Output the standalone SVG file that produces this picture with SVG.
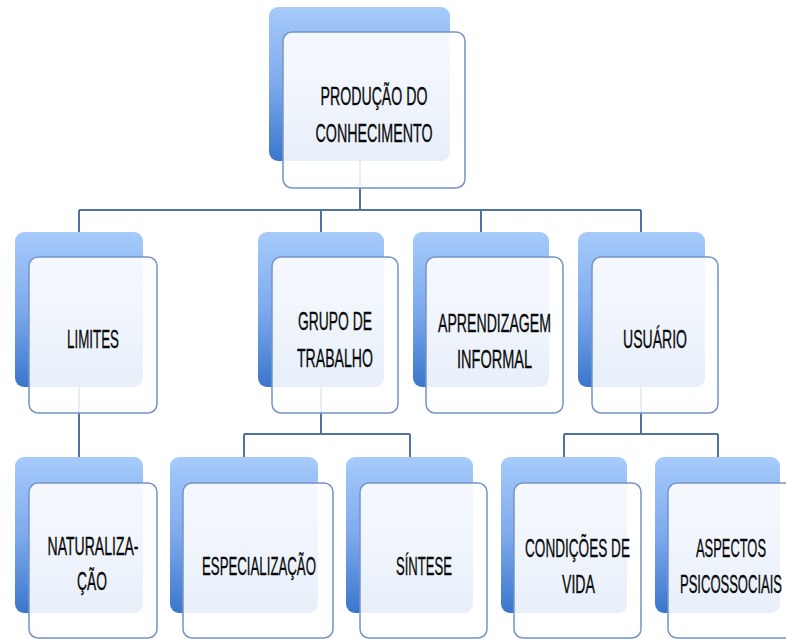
<svg xmlns="http://www.w3.org/2000/svg" width="786" height="639" viewBox="0 0 786 639">
<defs>
<linearGradient id="bg" x1="0" y1="0" x2="0" y2="1">
<stop offset="0" stop-color="#a6cbfb"/>
<stop offset="0.5" stop-color="#7eaaed"/>
<stop offset="1" stop-color="#3a76cc"/>
</linearGradient>
<linearGradient id="fg" x1="0" y1="0" x2="0" y2="1">
<stop offset="0" stop-color="#ffffff" stop-opacity="0.9"/>
<stop offset="1" stop-color="#ffffff" stop-opacity="0.88"/>
</linearGradient>
<style>
.back{fill:url(#bg);}
.front{fill:url(#fg);stroke:#7694c6;stroke-width:1.5;}
.lbl{font-family:"Liberation Sans",Arial,sans-serif;font-size:26px;fill:#0a0a0a;stroke:#0a0a0a;stroke-width:0.35;text-anchor:middle;}
.conn{fill:none;stroke:#5072a7;stroke-width:2;}
</style>
</defs>
<rect width="786" height="639" fill="#ffffff"/>
<g id="connectors">
<path class="conn" d="M360 160 V210 M79 210 H641 M79 210 V232 M321 210 V232 M481 210 V232 M641 210 V232"/>
<path class="conn" d="M79 387 V457"/>
<path class="conn" d="M321 387 V434 M244 434 H410 M244 434 V457 M410 434 V457"/>
<path class="conn" d="M641 387 V434 M564 434 H718 M564 434 V457 M718 434 V457"/>
</g>
<g id="n-producao">
<rect class="back" x="269" y="7" width="181" height="154" rx="9"/>
<rect class="front" x="283" y="32" width="182" height="156" rx="9"/>
<text class="lbl" x="374" y="105" textLength="107" lengthAdjust="spacingAndGlyphs">PRODUÇÃO DO</text>
<text class="lbl" x="374" y="142" textLength="117" lengthAdjust="spacingAndGlyphs">CONHECIMENTO</text>
</g>
<g id="n-limites">
<rect class="back" x="15" y="232" width="128" height="155" rx="9"/>
<rect class="front" x="29" y="257" width="128" height="156" rx="9"/>
<text class="lbl" x="93" y="348" textLength="52" lengthAdjust="spacingAndGlyphs">LIMITES</text>
</g>
<g id="n-grupo">
<rect class="back" x="258" y="232" width="126" height="155" rx="9"/>
<rect class="front" x="272" y="257" width="126" height="156" rx="9"/>
<text class="lbl" x="335" y="330" textLength="74" lengthAdjust="spacingAndGlyphs">GRUPO DE</text>
<text class="lbl" x="335" y="367" textLength="76" lengthAdjust="spacingAndGlyphs">TRABALHO</text>
</g>
<g id="n-aprendizagem">
<rect class="back" x="413" y="232" width="136" height="155" rx="9"/>
<rect class="front" x="426" y="257" width="137" height="156" rx="9"/>
<text class="lbl" x="494.5" y="332" textLength="113" lengthAdjust="spacingAndGlyphs">APRENDIZAGEM</text>
<text class="lbl" x="494.5" y="368" textLength="75" lengthAdjust="spacingAndGlyphs">INFORMAL</text>
</g>
<g id="n-usuario">
<rect class="back" x="578" y="232" width="127" height="155" rx="9"/>
<rect class="front" x="592" y="257" width="126" height="156" rx="9"/>
<text class="lbl" x="655" y="348" textLength="64" lengthAdjust="spacingAndGlyphs">USUÁRIO</text>
</g>
<g id="n-naturalizacao">
<rect class="back" x="15" y="457" width="128" height="156" rx="9"/>
<rect class="front" x="29" y="483" width="128" height="155" rx="9"/>
<text class="lbl" x="93" y="555" textLength="91" lengthAdjust="spacingAndGlyphs">NATURALIZA-</text>
<text class="lbl" x="92" y="590" textLength="30" lengthAdjust="spacingAndGlyphs">ÇÃO</text>
</g>
<g id="n-especializacao">
<rect class="back" x="170" y="457" width="148" height="156" rx="9"/>
<rect class="front" x="183" y="483" width="150" height="155" rx="9"/>
<text class="lbl" x="259" y="575" textLength="114" lengthAdjust="spacingAndGlyphs">ESPECIALIZAÇÃO</text>
</g>
<g id="n-sintese">
<rect class="back" x="346" y="457" width="127" height="156" rx="9"/>
<rect class="front" x="360" y="483" width="127" height="155" rx="9"/>
<text class="lbl" x="424" y="575" textLength="56" lengthAdjust="spacingAndGlyphs">SÍNTESE</text>
</g>
<g id="n-condicoes">
<rect class="back" x="501" y="457" width="126" height="156" rx="9"/>
<rect class="front" x="514" y="483" width="127" height="155" rx="9"/>
<text class="lbl" x="577.5" y="557" textLength="105" lengthAdjust="spacingAndGlyphs">CONDIÇÕES DE</text>
<text class="lbl" x="578.5" y="593" textLength="33" lengthAdjust="spacingAndGlyphs">VIDA</text>
</g>
<g id="n-aspectos">
<rect class="back" x="655" y="457" width="125" height="156" rx="9"/>
<rect class="front" x="668" y="483" width="127" height="155" rx="9"/>
<text class="lbl" x="731" y="557" textLength="70" lengthAdjust="spacingAndGlyphs">ASPECTOS</text>
<text class="lbl" x="731" y="593" textLength="102" lengthAdjust="spacingAndGlyphs">PSICOSSOCIAIS</text>
</g>
</svg>
